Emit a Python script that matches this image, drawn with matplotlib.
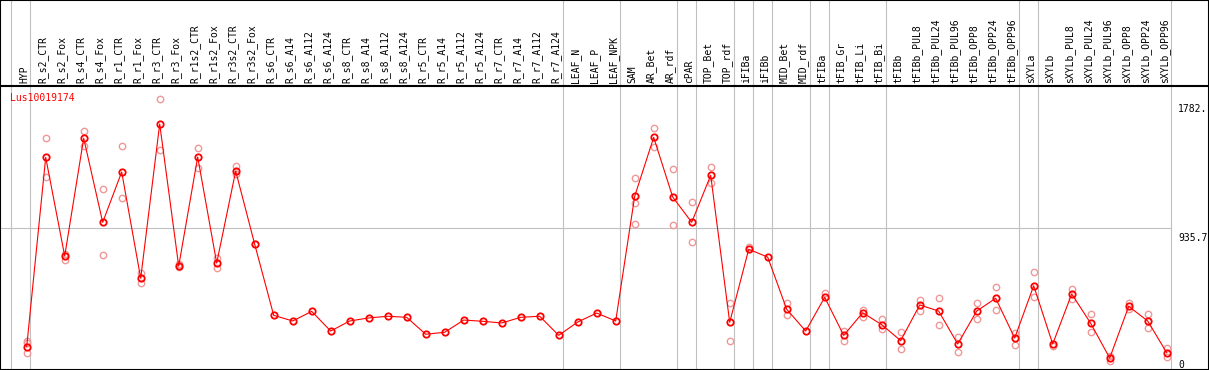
import matplotlib
matplotlib.use('Agg')
import matplotlib.pyplot as plt
from matplotlib.patches import Rectangle

gene = 'Lus10019174'

samples = ['HYP', 'R_s2_CTR', 'R_s2_Fox', 'R_s4_CTR', 'R_s4_Fox', 'R_r1_CTR', 'R_r1_Fox',
           'R_r3_CTR', 'R_r3_Fox', 'R_r1s2_CTR', 'R_r1s2_Fox', 'R_r3s2_CTR', 'R_r3s2_Fox',
           'R_s6_CTR', 'R_s6_A14', 'R_s6_A112', 'R_s6_A124', 'R_s8_CTR', 'R_s8_A14',
           'R_s8_A112', 'R_s8_A124', 'R_r5_CTR', 'R_r5_A14', 'R_r5_A112', 'R_r5_A124',
           'R_r7_CTR', 'R_r7_A14', 'R_r7_A112', 'R_r7_A124', 'LEAF_N', 'LEAF_P', 'LEAF_NPK',
           'SAM', 'AR_Bet', 'AR_rdf', 'cPAR', 'TOP_Bet', 'TOP_rdf', 'iFIBa', 'iFIBb',
           'MID_Bet', 'MID_rdf', 'tFIBa', 'tFIB_Gr', 'tFIB_Li', 'tFIB_Bi', 'tFIBb',
           'tFIBb_PUL8', 'tFIBb_PUL24', 'tFIBb_PUL96', 'tFIBb_OPP8', 'tFIBb_OPP24',
           'tFIBb_OPP96', 'sXYLa', 'sXYLb', 'sXYLb_PUL8', 'sXYLb_PUL24', 'sXYLb_PUL96',
           'sXYLb_OPP8', 'sXYLb_OPP24', 'sXYLb_OPP96']

# mean expression per sample
means = [159, 1401, 754, 1526, 975, 1305, 608, 1620, 688, 1403, 708, 1311, 831,
         365, 328, 391, 262, 328, 348, 359, 352, 241, 254, 334, 326, 315, 352, 359, 234,
         321, 380, 328,
         1146, 1532, 1141, 975, 1283, 319, 798, 747, 405, 262, 483, 234, 382, 304, 199,
         433, 393, 177, 393, 477, 216, 559, 177, 505, 313, 85, 424, 328, 120]

# replicates (only the ones that show apart from the mean)
reps = [[184, 195, 116], [1526, 1270], [767, 728], [1574, 1475], [1191, 761],
        [1475, 1132], [641, 579], [1782, 1449], [684, 702], [1460, 1333], [739, 677],
        [1344, 1290], [831],
        [], [], [], [], [], [], [], [], [], [], [], [], [], [], [], [], [], [], [],
        [1264, 1100, 962], [1593, 1471], [1323, 955], [1106, 844], [1336, 1231],
        [444, 195], [815], [], [446, 369], [], [513], [260, 195], [400, 356],
        [343, 277], [254, 144], [466, 395], [477, 300], [221, 123], [444, 339],
        [551, 400], [251, 172], [649, 487], [164], [538, 470], [372, 254], [68, 98],
        [444, 405], [374, 280], [149, 94]]

# index of last column in each group
group_ends = [-1, 0, 28, 31, 34, 35, 37, 38, 39, 41, 42, 45, 52, 53, 60]

tick_vals = [1782.0, 935.7]
tick_txt = ['1782.', '935.7']

W, H = 1209, 370
HEAD = 85.7
X0, STEP = 26.7, 19.0
xlim = (-X0 / STEP, (W - X0) / STEP)
ylim = (6.6, 1870.7)
mono = 'DejaVu Sans Mono'
grey = '#c0c0c0'

fig = plt.figure(figsize=(W / 100, H / 100), dpi=100)
ax = fig.add_axes([0, 0, 1, (H - HEAD) / H])
hx = fig.add_axes([0, (H - HEAD) / H, 1, HEAD / H])

for a in (ax, hx):
    a.set_xlim(*xlim)
    a.set_xticks([])
    a.set_yticks([])
    for s in a.spines.values():
        s.set_visible(False)
    for k in group_ends:
        a.axvline(k + 0.2, color=grey, lw=0.8, zorder=0)
ax.set_ylim(*ylim)
hx.set_ylim(0, 1)
hx.spines['bottom'].set_visible(True)
hx.spines['bottom'].set_linewidth(1.5)

right = (len(samples) - 1 + 0.2 - xlim[0]) / (xlim[1] - xlim[0])
ax.axhline(935.7, xmin=0, xmax=right, color=grey, lw=0.8, zorder=0)

xs = list(range(len(samples)))
for i, r in enumerate(reps):
    if r:
        ax.plot([i] * len(r), r, 'o', ms=4.6, mfc='none', mec='#f09898', mew=1.0, zorder=2)
ax.plot(xs, means, '-', color='red', lw=0.8, zorder=3)
ax.plot(xs, means, 'o', ms=4.6, mfc='none', mec='red', mew=1.3, zorder=4)

for i, name in enumerate(samples):
    hx.text(i - 0.13, 0.028, name, rotation=90, ha='center', va='bottom',
            family=mono, fontsize=7)

ax.text(10 / W, 0.956, gene, transform=ax.transAxes, color='red', family=mono,
        fontsize=7, ha='left', va='center')

lab_x = len(samples) - 1 + 0.6
for v, t in zip(tick_vals, tick_txt):
    ax.annotate(t, (lab_x, v), xytext=(0, -3.2), textcoords='offset points',
                family=mono, fontsize=7, ha='left', va='top')
ax.text(lab_x, ylim[0], '0', family=mono, fontsize=7, ha='left', va='bottom')

fig.patches.append(Rectangle((0, 0), 1, 1, transform=fig.transFigure, fill=False,
                             ec='black', lw=1.5))

fig.savefig('out.png', dpi=100)
